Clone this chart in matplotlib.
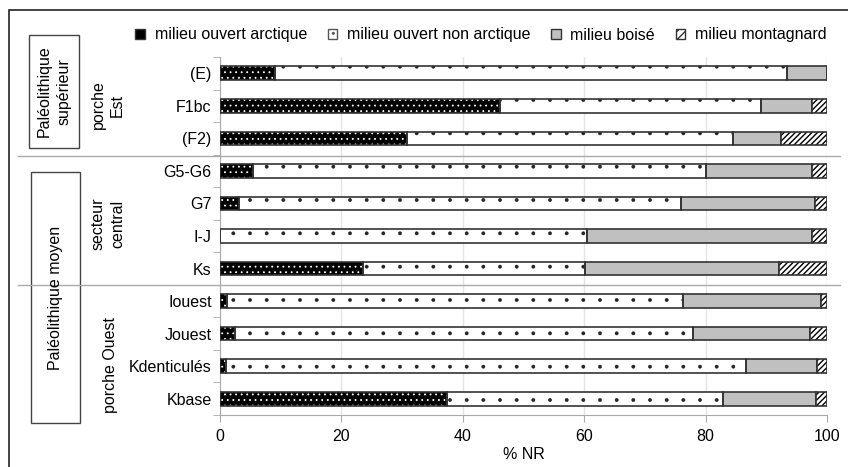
import numpy as np
from matplotlib import pyplot as plt
from matplotlib import rcParams
from matplotlib.patches import Patch, Rectangle
from matplotlib.lines import Line2D

rcParams['font.family'] = ['Liberation Sans', 'DejaVu Sans']
rcParams['hatch.linewidth'] = 1.0

samples = ["(E)", "F1bc", "(F2)", "G5-G6", "G7", "I-J", "Ks",
           "Iouest", "Jouest", "Kdenticulés", "Kbase"]
series = ["milieu ouvert arctique", "milieu ouvert non arctique",
          "milieu boisé", "milieu montagnard"]

# % NR per sample
arctique     = [9.0, 46.1, 30.8, 5.5, 3.2, 0.0, 23.6, 1.1, 2.5, 1.0, 37.4]
non_arctique = [84.4, 43.0, 53.7, 74.6, 72.8, 60.4, 36.5, 75.1, 75.5, 85.7, 45.5]
boise        = [6.6, 8.4, 7.9, 17.4, 22.0, 37.1, 32.0, 22.8, 19.2, 11.7, 15.3]
montagnard   = [0.0, 2.5, 7.6, 2.5, 2.0, 2.5, 7.9, 1.0, 2.8, 1.6, 1.8]

W, H = 848, 467
fig = plt.figure(figsize=(W / 100, H / 100), dpi=100)

# outer frame (cropped on right/bottom like the original)
fig.patches.append(Rectangle((9 / W, -0.2), 1.2, 1.2 - 10 / H,
                             transform=fig.transFigure, fill=False,
                             edgecolor='#222222', lw=1.2))

ax = fig.add_axes([220 / W, 52 / H, 607 / W, 358 / H])

y = np.arange(len(samples))
h = 0.42
edge = '#333333'
left = np.zeros(len(samples))

# arctique: black with small white dots
with plt.rc_context({'hatch.linewidth': 0.6}):
    ax.barh(y, arctique, height=h, left=left, color='black', edgecolor='white',
            hatch='...', lw=0, zorder=3)
ax.barh(y, arctique, height=h, left=left, fill=False, edgecolor=edge, lw=1.2, zorder=4)
left += arctique

# non arctique: white with sparse small dots
with plt.rc_context({'hatch.linewidth': 0.3}):
    ax.barh(y, non_arctique, height=h, left=left, color='white', edgecolor='#222222',
            hatch='.', lw=0, zorder=3)
ax.barh(y, non_arctique, height=h, left=left, fill=False, edgecolor=edge, lw=1.2, zorder=4)
left += non_arctique

ax.barh(y, boise, height=h, left=left, color='#c0c0c0', edgecolor=edge, lw=1.2, zorder=3)
left += boise

ax.barh(y, montagnard, height=h, left=left, color='white', edgecolor='black',
        hatch='//////', lw=0, zorder=3)
ax.barh(y, montagnard, height=h, left=left, fill=False, edgecolor=edge, lw=1.2, zorder=4)

ax.set_xlim(0, 100)
ax.set_ylim(len(samples) - 0.5, -0.5)
ax.set_xticks([0, 20, 40, 60, 80, 100])
ax.set_yticks(y)
ax.set_yticklabels(samples)
ax.set_yticks(np.arange(len(samples) + 1) - 0.5, minor=True)
ax.tick_params(axis='y', which='major', length=0, pad=6, labelsize=11.5)
ax.tick_params(axis='y', which='minor', length=5, color='#aaaaaa')
ax.tick_params(axis='x', length=5, color='#aaaaaa', labelsize=11.5, pad=5)
ax.set_xlabel("% NR", fontsize=11.5, labelpad=2)
ax.xaxis.grid(True, color='#e4e4e4', lw=1, zorder=0)
ax.set_axisbelow(True)
for s in ['top', 'right']:
    ax.spines[s].set_visible(False)
for s in ['left', 'bottom']:
    ax.spines[s].set_color('#aaaaaa')

# legend
handles = [Patch(facecolor='black', edgecolor='#333333', label=series[0]),
           Patch(facecolor='white', edgecolor='#555555', hatch='..', label=series[1]),
           Patch(facecolor='#c0c0c0', edgecolor='#333333', label=series[2]),
           Patch(facecolor='white', edgecolor='#333333', hatch='////', label=series[3])]
fig.legend(handles=handles, loc='center', bbox_to_anchor=(481 / W, 1 - 35 / H),
           ncol=4, frameon=False, fontsize=11.5, handlelength=0.6,
           handleheight=0.6, handletextpad=0.6, columnspacing=1.3)

# separators between groups
for yy in [156, 285]:
    fig.lines.append(Line2D([18 / W, 840 / W], [1 - yy / H, 1 - yy / H],
                            transform=fig.transFigure, color='#aaaaaa', lw=1))

# period boxes
for (x0, y0, x1, y1, txt) in [(29, 35, 79, 148, "Paléolithique\nsupérieur"),
                              (31, 172, 80, 423, "Paléolithique moyen")]:
    fig.patches.append(Rectangle((x0 / W, 1 - y1 / H), (x1 - x0) / W, (y1 - y0) / H,
                                 transform=fig.transFigure, fill=False,
                                 edgecolor='#444444', lw=1))
    fig.text((x0 + x1) / 2 / W, 1 - (y0 + y1) / 2 / H, txt, rotation=90,
             ha='center', va='center', fontsize=11.5, linespacing=1.35)

# sector labels
for (xc, yc, txt) in [(108, 105, "porche\nEst"), (108, 224, "secteur\ncentral"),
                      (110, 365, "porche Ouest")]:
    fig.text(xc / W, 1 - yc / H, txt, rotation=90, ha='center', va='center',
             fontsize=11.5, linespacing=1.35)

fig.savefig('out.png', dpi=100)
